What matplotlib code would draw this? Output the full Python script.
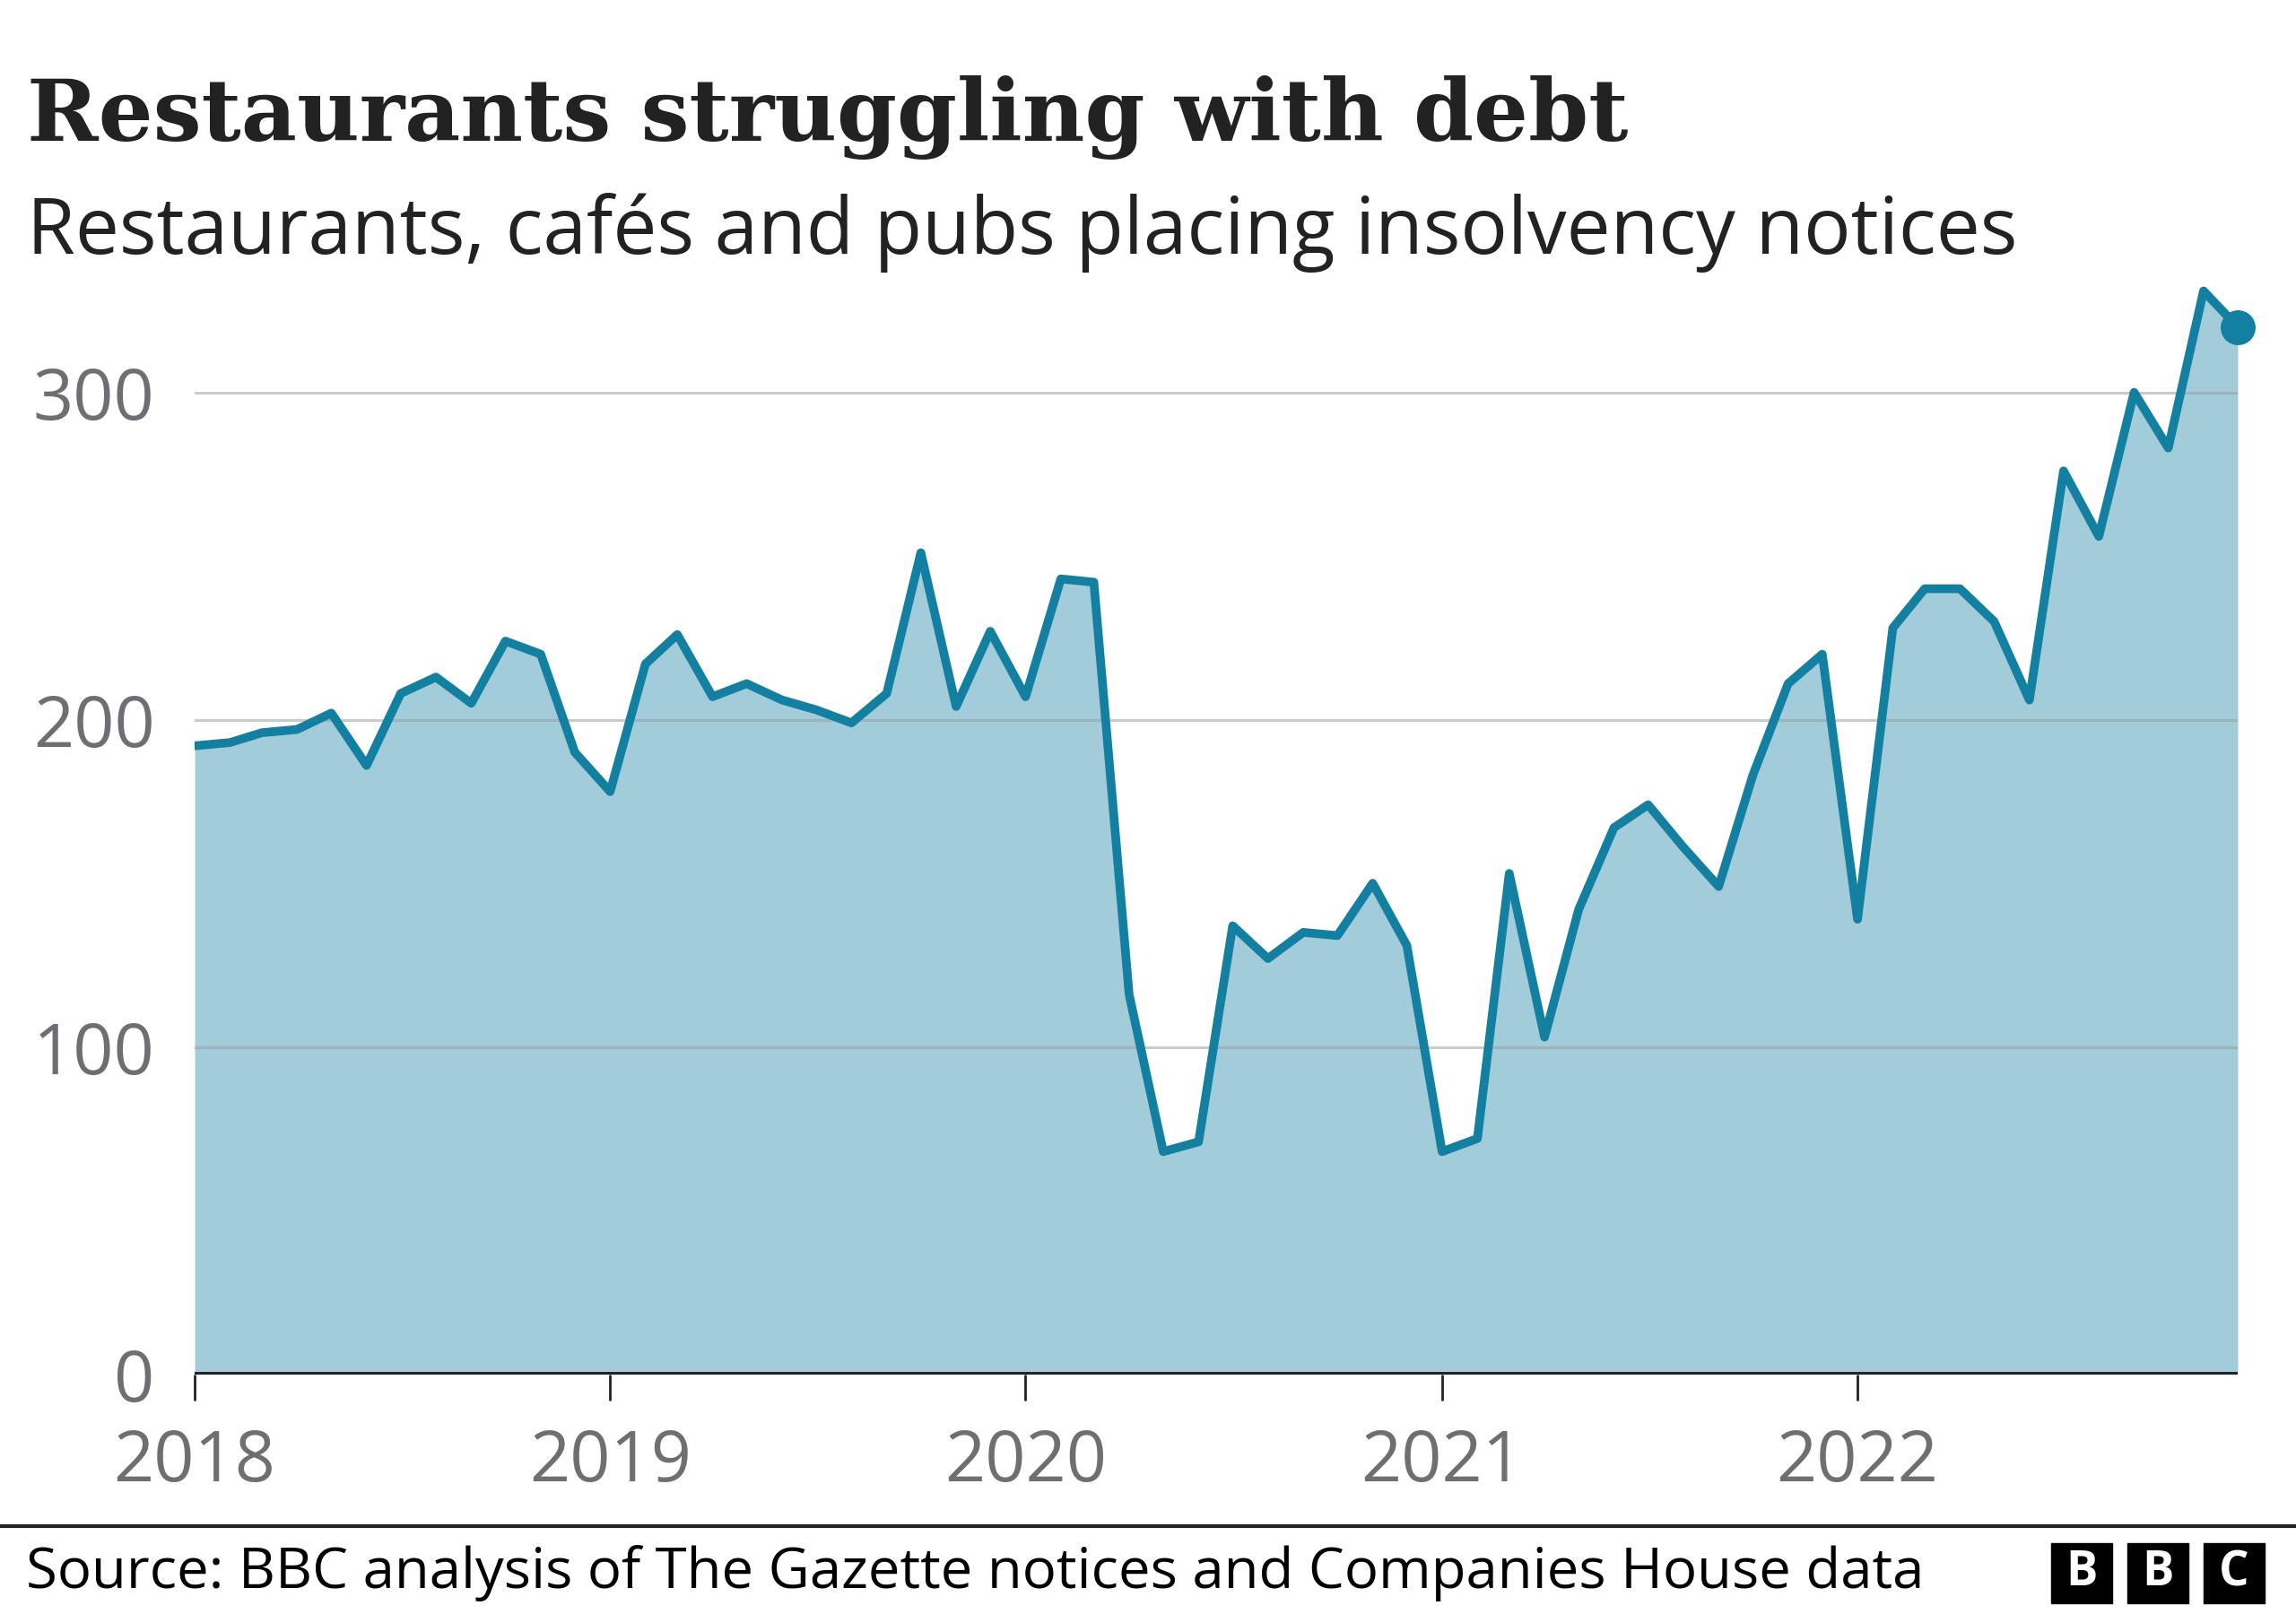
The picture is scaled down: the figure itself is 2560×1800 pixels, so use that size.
import matplotlib
matplotlib.use("Agg")
import matplotlib.pyplot as plt
import pandas as pd
from matplotlib.patches import Rectangle

# ---- data ----
months = pd.date_range("2018-01-01", periods=60, freq="MS")
notices = [192, 193, 196, 197, 202, 186, 208, 213, 205, 224, 220, 190,
           178, 217, 226, 207, 211, 206, 203, 199, 208, 251, 204, 227,
           207, 243, 242, 116, 68, 71, 137, 127, 135, 134, 150, 131,
           68, 72, 153, 103, 142, 167, 174, 161, 149, 183, 211, 220,
           139, 228, 240, 240, 230, 206, 276, 256, 300, 283, 331, 320]
year_ticks = pd.to_datetime(["2018-01-01", "2019-01-01", "2020-01-01", "2021-01-01", "2022-01-01"])
year_labels = ["2018", "2019", "2020", "2021", "2022"]
y_ticks = [0, 100, 200, 300]

title = "Restaurants struggling with debt"
subtitle = "Restaurants, cafés and pubs placing insolvency notices"
source = "Source: BBC analysis of The Gazette notices and Companies House data"

LINE = "#1380A1"
FILL = "#A2CCDA"
GREY = "#6E6E73"

fig = plt.figure(figsize=(25.6, 18), dpi=100)
ax = fig.add_axes([0.0848, 0.1486, 0.8898, 0.6894])

ax.fill_between(months, notices, 0, color=FILL, lw=0, zorder=1)
for yv in y_ticks[1:]:
    ax.axhline(yv, color="#999999", alpha=0.5, lw=2.2, zorder=2)
ax.plot(months, notices, color=LINE, lw=7, solid_joinstyle="round",
        solid_capstyle="round", zorder=3)
ax.plot(months[-1:], notices[-1:], "o", color=LINE, ms=27, zorder=4, clip_on=False)
ax.axhline(0, color="#222222", lw=5, zorder=5)

ax.set_xlim(months[0], months[-1])
ax.set_ylim(0, 340)
for s in ax.spines.values():
    s.set_visible(False)

ax.set_yticks(y_ticks)
ax.set_yticklabels([str(v) for v in y_ticks])
ax.set_xticks(year_ticks)
ax.set_xticklabels(year_labels)
ax.tick_params(axis="y", length=0, pad=32, labelsize=57, labelcolor=GREY)
ax.tick_params(axis="x", length=21, width=2, color="#222222", pad=22, labelsize=57, labelcolor=GREY)
for lab in ax.get_xticklabels() + ax.get_yticklabels():
    lab.set_fontfamily("Open Sans")

fig.text(0.0117, 0.9128, title, fontsize=69, fontweight="bold", family="DejaVu Serif",
         color="#222222", va="baseline", ha="left")
fig.text(0.0117, 0.8428, subtitle, fontsize=62.8, family="Open Sans",
         color="#222222", va="baseline", ha="left")

fig.add_artist(plt.Line2D([0, 1], [1 - 1702 / 1800] * 2, transform=fig.transFigure,
                          color="#222222", lw=3))
fig.text(0.0113, 1 - 1755 / 1800, source, fontsize=45.7, family="Open Sans",
         color="#000000", va="center", ha="left")

for i, letter in enumerate(["B", "B", "C"]):
    x0 = (2287 + i * 85) / 2560
    fig.add_artist(Rectangle((x0, 1 - 1788 / 1800), 68 / 2560, 67 / 1800,
                             transform=fig.transFigure, color="black"))
    fig.text(x0 + 34 / 2560, 1 - 1754.5 / 1800, letter, fontsize=38, fontweight="bold",
             family="Open Sans", color="white", ha="center", va="center")

fig.savefig("out.png", dpi=100)
